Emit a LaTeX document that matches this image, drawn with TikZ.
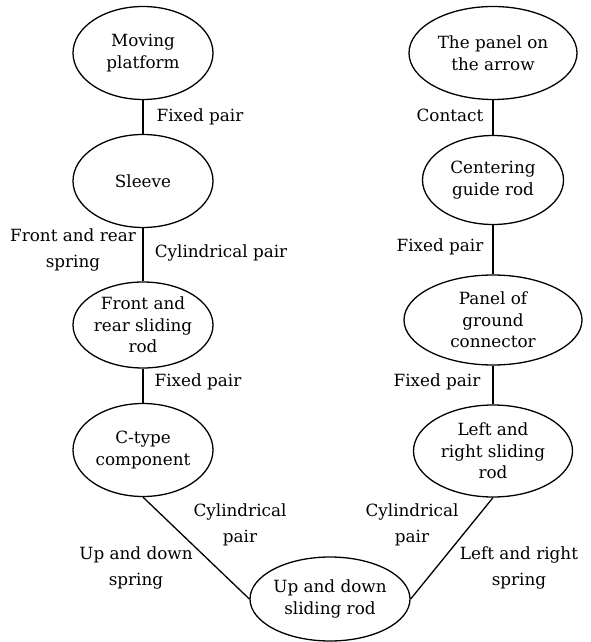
\documentclass[tikz,border=0pt]{standalone}
\usepackage{fontspec}
\setmainfont{DejaVu Serif}
\usetikzlibrary{shapes.geometric}
\begin{document}
\begin{tikzpicture}[x=0.5pt,y=-0.5pt,
  part/.style={draw,ellipse,line width=0.65pt,inner sep=-8pt,align=center,
    font=\fontsize{8.4}{10.8}\selectfont},
  lbl/.style={align=center,inner sep=0pt,font=\fontsize{8.4}{13}\selectfont},
  link/.style={line width=0.65pt}]
\useasboundingbox (0,0) rectangle (590,642);
% left chain
\node[part,minimum width=70pt,minimum height=46.5pt] (mp) at (143,53) {Moving\\platform};
\node[part,minimum width=70pt,minimum height=46.5pt] (sl) at (143,181) {Sleeve};
\node[part,minimum width=70pt,minimum height=43pt] (fr) at (143,325) {Front and\\rear sliding\\rod};
\node[part,minimum width=70pt,minimum height=46.5pt] (ct) at (143,450) {C-type\\component};
% bottom
\node[part,minimum width=80pt,minimum height=42pt] (ud) at (330,599) {Up and down\\sliding rod};
% right chain
\node[part,minimum width=84pt,minimum height=46.5pt] (pa) at (493,53) {The panel on\\the arrow};
\node[part,minimum width=70.5pt,minimum height=44.5pt] (cg) at (493,180) {Centering\\guide rod};
\node[part,minimum width=89pt,minimum height=45pt] (pg) at (493,320) {Panel of\\ground\\connector};
\node[part,minimum width=79.5pt,minimum height=46pt] (lr) at (493,451) {Left and\\right sliding\\rod};
% connectors
\draw[link] (mp.south) -- (sl.north);
\draw[link] (sl.south) -- (fr.north);
\draw[link] (fr.south) -- (ct.north);
\draw[link] (ct.south) -- (ud.west);
\draw[link] (pa.south) -- (cg.north);
\draw[link] (cg.south) -- (pg.north);
\draw[link] (pg.south) -- (lr.north);
\draw[link] (lr.south) -- (ud.east);
% labels
\node[lbl] (l1) at (200,117) {Fixed pair};
\node[lbl] (l2) at (73,250) {Front and rear\\spring};
\node[lbl] (l3) at (221,253) {Cylindrical pair};
\node[lbl] (l4) at (198,382) {Fixed pair};
\node[lbl] (l5) at (240,525) {Cylindrical\\pair};
\node[lbl] (l6) at (136,568) {Up and down\\spring};
\node[lbl] (r1) at (450,115) {Contact};
\node[lbl] (r2) at (440,247) {Fixed pair};
\node[lbl] (r3) at (437,382) {Fixed pair};
\node[lbl] (r4) at (412,525) {Cylindrical\\pair};
\node[lbl] (r5) at (519,568) {Left and right\\spring};
\end{tikzpicture}
\end{document}
